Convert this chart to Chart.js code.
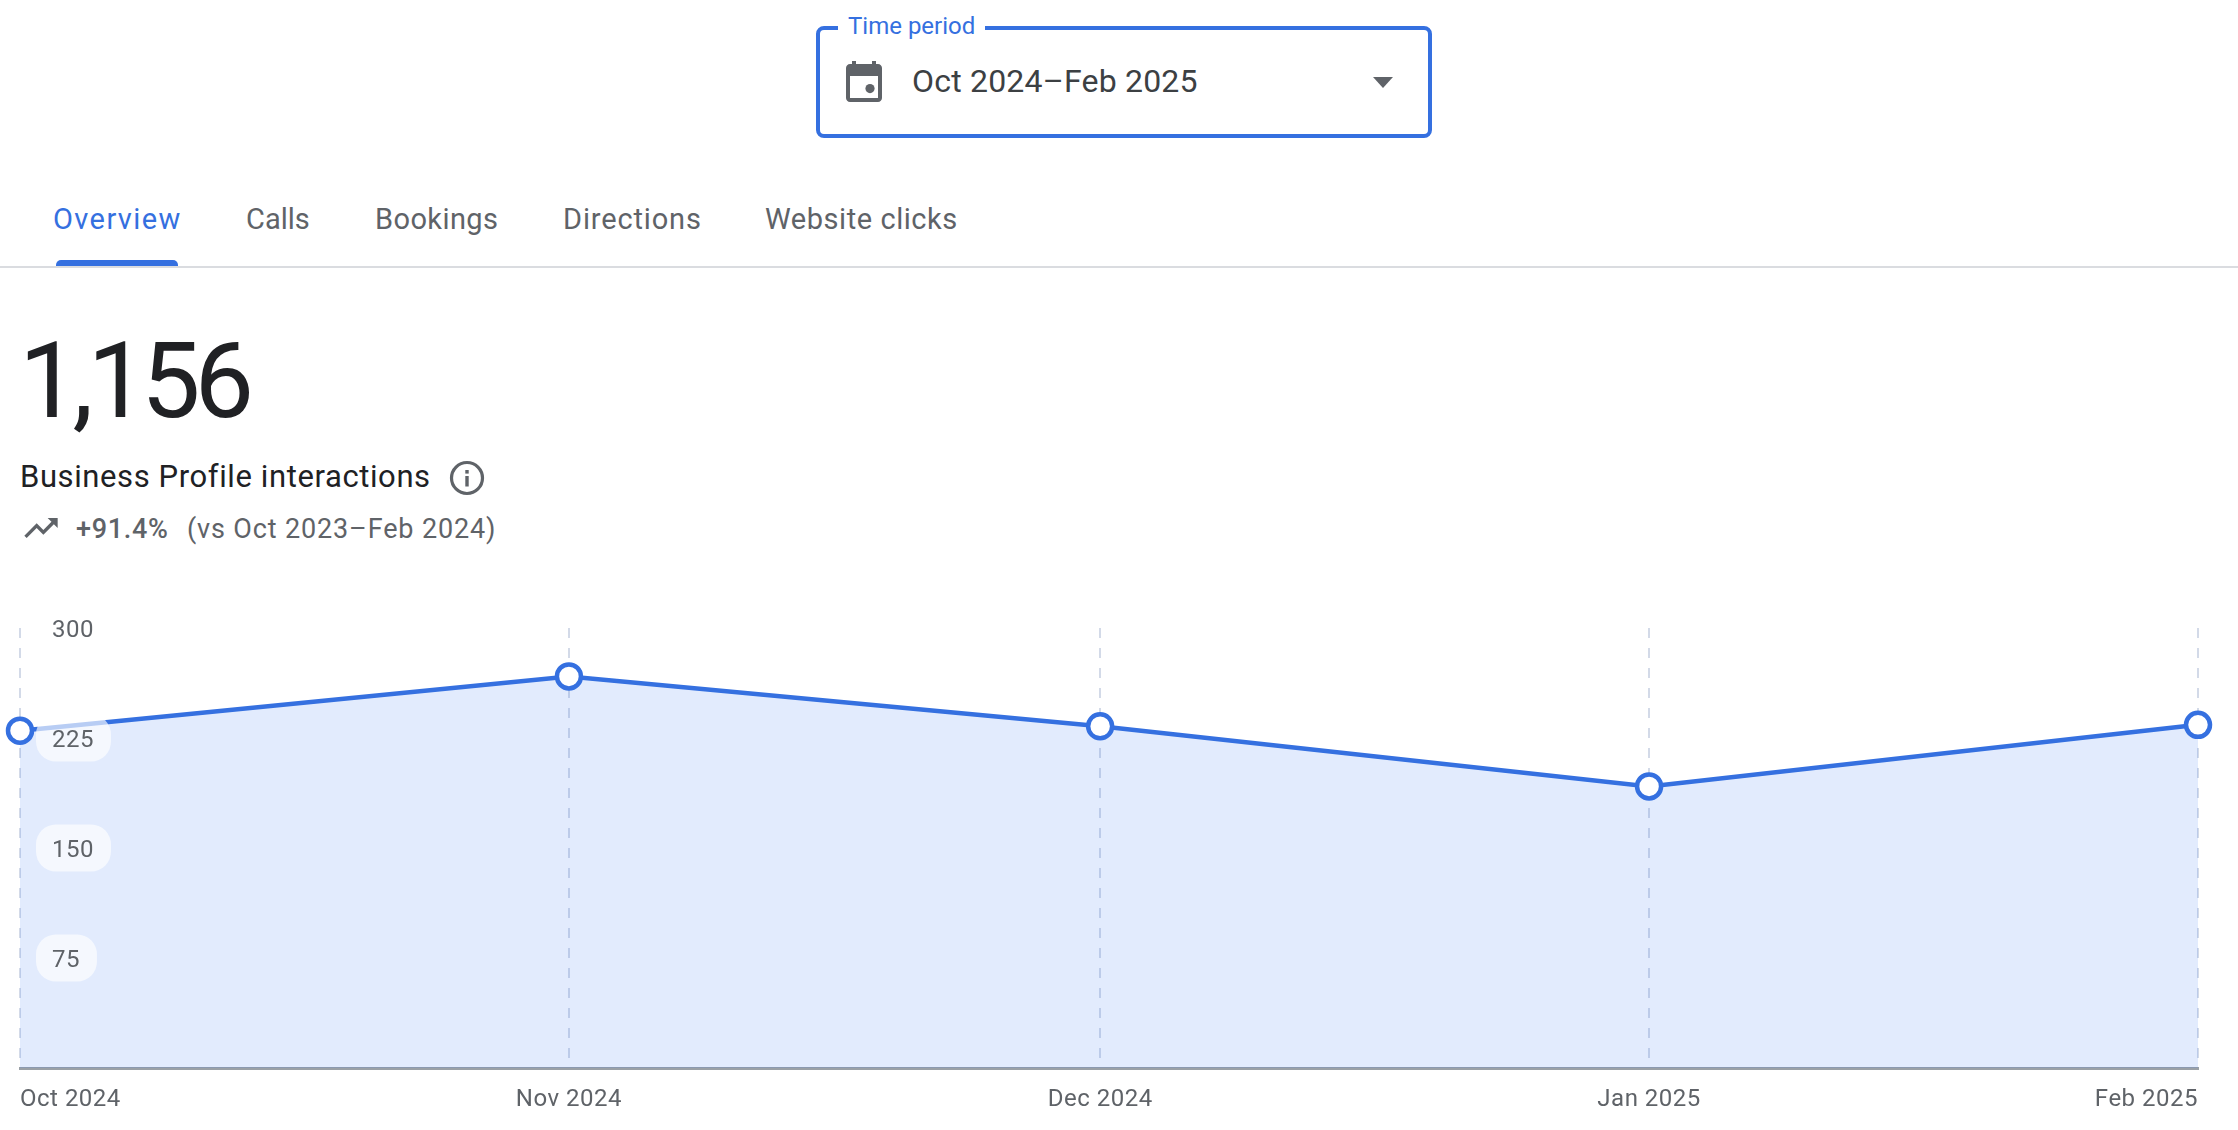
<!DOCTYPE html>
<html><head><meta charset="utf-8">
<script src="https://cdn.jsdelivr.net/npm/chart.js@4"></script>
<style>
html,body{margin:0;padding:0;background:#fff;width:2238px;height:1130px;overflow:hidden;font-family:Roboto,sans-serif}
.t{position:absolute;white-space:nowrap;line-height:1;transform:translateY(-50%)}
.tab{top:219px;font-size:29px;font-weight:450;color:#5f6368}
svg{position:absolute}
#box{position:absolute;left:816px;top:26px;width:608px;height:104px;border:4px solid #3570e0;border-radius:8px}
#wrap{position:absolute;left:0;top:600px;width:2238px;height:530px}
</style></head><body>
<div id="box"></div>
<div class="t" style="left:838px;top:26px;padding:0 10px;background:#fff;font-size:24px;color:#3570e0">Time period</div>
<svg style="left:840px;top:58px" width="48" height="48" viewBox="0 0 24 24"><path fill="#5f6368" d="M6 1.5h2V3h8V1.5h2V3h1c1.1 0 2 .9 2 2v15c0 1.1-.9 2-2 2H5c-1.1 0-2-.9-2-2V5c0-1.1.9-2 2-2h1zM5 9v11h14V9z"/><circle cx="15" cy="15.3" r="2.3" fill="#5f6368"/></svg>
<div class="t" style="left:912px;top:81px;font-size:32px;letter-spacing:.2px;color:#3c4043">Oct 2024–Feb 2025</div>
<svg style="left:1373px;top:77px" width="20" height="11" viewBox="0 0 20 11"><path fill="#5f6368" d="M0 0h20L10 11z"/></svg>
<div class="t tab" style="left:53px;letter-spacing:1.4px;color:#3570e0">Overview</div>
<div class="t tab" style="left:246px">Calls</div>
<div class="t tab" style="left:375px;letter-spacing:.4px">Bookings</div>
<div class="t tab" style="left:563px;letter-spacing:.85px">Directions</div>
<div class="t tab" style="left:765px;letter-spacing:.55px">Website clicks</div>
<div style="position:absolute;left:56px;top:260px;width:122px;height:7px;background:#3570e0;border-radius:5px 5px 0 0"></div>
<div style="position:absolute;left:0;top:266px;width:2238px;height:2px;background:#dadce0"></div>
<div class="t" style="left:19px;top:381px;font-size:106px;letter-spacing:-6px;color:#202124">1,156</div>
<div class="t" style="left:20px;top:476px;font-size:31px;letter-spacing:.6px;color:#202124">Business Profile interactions</div>
<svg style="left:449px;top:460px" width="36" height="36" viewBox="0 0 36 36"><circle cx="18" cy="18" r="15.5" fill="none" stroke="#5f6368" stroke-width="3.2"/><rect x="16.3" y="16" width="3.4" height="10.5" fill="#5f6368"/><rect x="16.3" y="10" width="3.4" height="3.6" fill="#5f6368"/></svg>
<svg style="left:21px;top:508px" width="40" height="40" viewBox="0 0 24 24"><path fill="#5f6368" d="M16 6l2.29 2.29-4.88 4.88-4-4L2 16.59 3.41 18l6-6 4 4 6.3-6.29L22 12V6z"/></svg>
<div class="t" style="left:76px;top:529px;font-size:27px;font-weight:500;letter-spacing:.7px;color:#5f6368">+91.4%</div>
<div class="t" style="left:187px;top:529px;font-size:27px;letter-spacing:.85px;color:#5f6368">(vs Oct 2023–Feb 2024)</div>
<div id="wrap"><canvas id="c"></canvas></div>
<script>
const categories = ['Oct 2024','Nov 2024','Dec 2024','Jan 2025','Feb 2025'];
const dayOffsets = [0,31,61,92,123];
const interactions = [230,267,233,192,234];
const yTicks = [0,75,150,225,300];

const spacing = '0.5px';
const LINE = '#3570e0';
const tickFont = {family:'Roboto',size:24};

const pills = {
  id:'pills',
  beforeDraw(chart){ chart.ctx.letterSpacing = spacing; },
  afterDatasetsDraw(chart){
    const s = chart.scales.y, ctx = chart.ctx;
    ctx.save();
    ctx.font = '24px Roboto';
    ctx.fillStyle = 'rgba(255,255,255,0.65)';
    s.ticks.forEach((t,i)=>{
      if(!t.label) return;
      const w = ctx.measureText(t.label).width;
      const y = s.getPixelForTick(i);
      ctx.beginPath();
      ctx.roundRect(chart.chartArea.left+16, y-23.5, w+33, 47, 20);
      ctx.fill();
    });
    ctx.restore();
  }
};

new Chart(document.getElementById('c'),{
  type:'line',
  plugins:[pills],
  data:{datasets:[{
    data:dayOffsets.map((d,i)=>({x:d,y:interactions[i]})),
    borderColor:LINE,borderWidth:4.5,tension:0,
    backgroundColor:'rgba(53,112,240,0.14)',fill:'origin',
    pointRadius:12,pointBorderWidth:4.5,pointBackgroundColor:'#fff',pointBorderColor:LINE,
    clip:false
  }]},
  options:{
    responsive:true,maintainAspectRatio:false,animation:false,devicePixelRatio:1,
    layout:{padding:{left:20,right:40,top:28,bottom:0}},
    plugins:{legend:{display:false},tooltip:{enabled:false}},
    scales:{
      x:{type:'linear',min:dayOffsets[0],max:dayOffsets[dayOffsets.length-1],
        afterBuildTicks(a){a.ticks=dayOffsets.map(v=>({value:v}));},
        afterFit(a){a.height=62;a.paddingLeft=0;a.paddingRight=0;},
        grid:{color:'#d3dae8',lineWidth:2,drawTicks:false},
        border:{display:true,color:'#9aa0a6',width:3,dash:[10,10]},
        ticks:{autoSkip:false,maxRotation:0,align:'inner',padding:18,color:'#5f6368',font:tickFont,
          callback:(v,i)=>categories[i]}
      },
      y:{min:yTicks[0],max:yTicks[yTicks.length-1],
        afterBuildTicks(a){a.ticks=yTicks.map(v=>({value:v}));},
        afterFit(a){a.width=0;a.paddingTop=0;a.paddingBottom=0;},
        grid:{display:false},border:{display:false},
        ticks:{mirror:true,z:1,padding:32,labelOffset:3,color:'#5f6368',font:tickFont,
          callback:v=>v===0?'':String(v)}
      }
    }
  }
});
</script>
</body></html>
